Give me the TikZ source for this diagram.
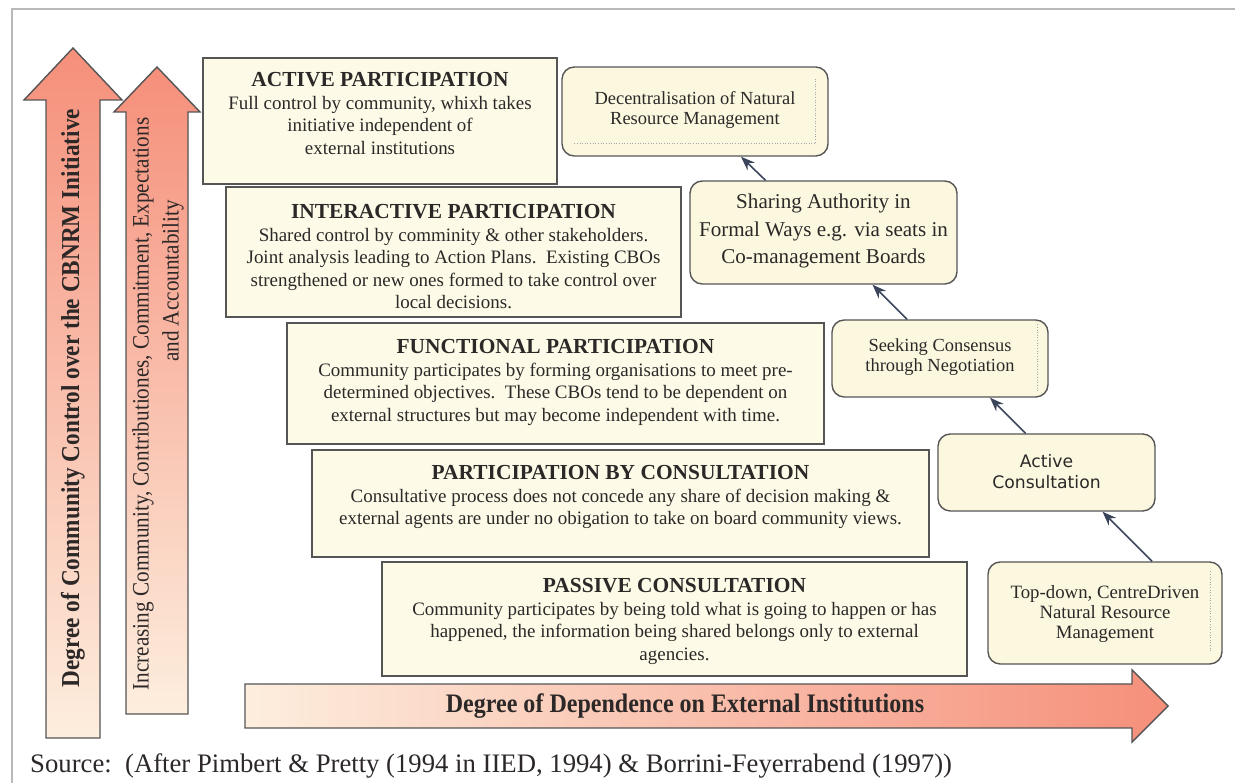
\documentclass[tikz,border=0pt]{standalone}
\definecolor{boxcream}{RGB}{253,251,232}
\definecolor{roundcream}{RGB}{252,248,224}
\definecolor{salmon}{RGB}{245,143,122}
\definecolor{lightpeach}{RGB}{253,238,222}
\definecolor{edgegray}{RGB}{85,85,85}
\definecolor{slatearrow}{RGB}{58,68,90}
\definecolor{inkgray}{RGB}{45,40,40}
\usepackage{fontspec}
\setmainfont{Liberation Serif}
\newfontfamily\narrowserif[FakeStretch=0.9]{Liberation Serif}
\newfontfamily\stagesans{DejaVu Sans}
\usepackage{tikz}
\usetikzlibrary{arrows.meta,positioning,calc,fit}

\begin{document}
\begin{tikzpicture}[x=0.02cm,y=-0.02cm,
    partbox/.style={draw=edgegray, line width=1pt, fill=boxcream, inner sep=0pt},
    parttext/.style={anchor=north, inner sep=0pt, align=center, text=inkgray,
        font=\fontsize{10.8}{12.8}\selectfont},
    stagebox/.style={draw=edgegray, line width=0.8pt, fill=roundcream, rounded corners=7pt, inner sep=0pt},
    stagetext/.style={anchor=north, inner sep=0pt, align=center, text=inkgray},
    bigarrow/.style={draw=edgegray, line width=0.8pt},
    stagelink/.style={draw=slatearrow, line width=0.9pt, -{Stealth[length=8pt,width=6pt]}},
    innerdots/.style={draw=gray!70, densely dotted, line width=0.5pt}]
    \useasboundingbox (0,0) rectangle (1235,783);
    \draw[gray!55, line width=0.6pt] (12,783) -- (12,9) -- (1235,9);

    % vertical arrows
    \draw[bigarrow, top color=salmon, bottom color=lightpeach]
        (46,738) -- (46,100) -- (24,100) -- (73,48) -- (122,100) -- (100,100) -- (100,738) -- cycle;
    \draw[bigarrow, top color=salmon, bottom color=lightpeach]
        (126,714) -- (126,112) -- (114,112) -- (157,67) -- (200,112) -- (188,112) -- (188,714) -- cycle;
    \node (control) [rotate=90, text=inkgray, font=\narrowserif\bfseries\fontsize{14.7}{18}\selectfont]
        at (73,398) {Degree of Community Control over the CBNRM Initiative};
    \node (increase) [rotate=90, align=center, text=inkgray, font=\narrowserif\fontsize{13.4}{17}\selectfont]
        at (158,404) {Increasing Community, Contributiones, Commitment, Expectations\\
        \hspace*{140pt}and Accountability};

    % horizontal arrow
    \draw[bigarrow, left color=lightpeach, right color=salmon]
        (245,684) -- (1132,684) -- (1132,670) -- (1168,706) -- (1132,742) -- (1132,728) -- (245,728) -- cycle;
    \node (depend) [text=inkgray, font=\narrowserif\bfseries\fontsize{15.2}{17}\selectfont]
        at (685,706) {Degree of Dependence on External Institutions};

    % participation levels
    \node (active) [partbox, fit={(203,58) (557,184)}] {};
    \node (interactive) [partbox, fit={(226,187) (681,317)}] {};
    \node (functional) [partbox, fit={(287,323) (824,444)}] {};
    \node (consult) [partbox, fit={(312,450) (929,557)}] {};
    \node (passive) [partbox, fit={(382,562) (967,676)}] {};

    \node (activetext) [parttext] at ($(active.north)+(0,15)$) {%
        \textbf{\fontsize{12.2}{12.8}\selectfont ACTIVE PARTICIPATION}\\
        Full control by community, whixh takes\\ initiative independent of\\ external institutions};
    \node (interactivetext) [parttext] at ($(interactive.north)+(0,18)$) {%
        \textbf{\fontsize{12.2}{12.8}\selectfont INTERACTIVE PARTICIPATION}\\
        Shared control by comminity \& other stakeholders.\\
        Joint analysis leading to Action Plans.\ \ Existing CBOs\\
        strengthened or new ones formed to take control over\\ local decisions.};
    \node (functionaltext) [parttext] at ($(functional.north)+(0,17)$) {%
        \textbf{\fontsize{12.2}{12.8}\selectfont FUNCTIONAL PARTICIPATION}\\
        Community participates by forming organisations to meet pre-\\
        determined objectives.\ \ These CBOs tend to be dependent on\\
        external structures but may become independent with time.};
    \node (consulttext) [parttext] at ($(consult.north)+(0,16)$) {%
        \textbf{\fontsize{12.2}{12.8}\selectfont PARTICIPATION BY CONSULTATION}\\
        Consultative process does not concede any share of decision making \&\\
        external agents are under no obigation to take on board community views.};
    \node (passivetext) [parttext] at ($(passive.north)+(0,17)$) {%
        \textbf{\fontsize{12.2}{12.8}\selectfont PASSIVE CONSULTATION}\\
        Community participates by being told what is going to happen or has\\
        happened, the information being shared belongs only to external\\ agencies.};

    % stages of devolution
    \node (decentral) [stagebox, fit={(562,67) (828,156)}] {};
    \node (sharing) [stagebox, fit={(690,181) (957,284)}] {};
    \node (consensus) [stagebox, fit={(832,320) (1048,397)}] {};
    \node (activecons) [stagebox, fit={(938,434) (1155,511)}] {};
    \node (topdown) [stagebox, fit={(988,562) (1222,664)}] {};

    \node (decentraltext) [stagetext, font=\fontsize{10.5}{11.4}\selectfont]
        at ($(decentral.north)+(0,25)$) {Decentralisation of Natural\\ Resource Management};
    \node (sharingtext) [stagetext, font=\fontsize{12}{15.8}\selectfont]
        at ($(sharing.north)+(0,13)$) {Sharing Authority in\\ Formal Ways e.g. via seats in\\ Co-management Boards};
    \node (consensustext) [stagetext, font=\fontsize{10.5}{11.4}\selectfont]
        at ($(consensus.north)+(0,19)$) {Seeking Consensus\\ through Negotiation};
    \node (activeconstext) [stagetext, font=\stagesans\fontsize{9.8}{12}\selectfont]
        at ($(activecons.north)+(0,21)$) {Active\\ Consultation};
    \node (topdowntext) [stagetext, font=\fontsize{10.7}{11.4}\selectfont]
        at ($(topdown.north)+(0,24)$) {Top-down, CentreDriven\\ Natural Resource\\ Management};

    \draw[innerdots] ($(decentral.south west)+(13,-13)$) -- ($(decentral.south east)+(-13,-13)$)
        -- ($(decentral.north east)+(-13,11)$);
    \draw[innerdots] ($(consensus.north east)+(-11,5)$) -- ($(consensus.south east)+(-11,-7)$);
    \draw[innerdots] ($(topdown.north east)+(-12,10)$) -- ($(topdown.south east)+(-12,-14)$);

    \draw[stagelink] ($(topdown.north)+(47,0)$) -- ($(activecons.south)+(56,0)$);
    \draw[stagelink] ($(activecons.north)+(-21,0)$) -- ($(consensus.south)+(50,0)$);
    \draw[stagelink] ($(consensus.north)+(-33,0)$) -- ($(sharing.south)+(49,0)$);
    \draw[stagelink] ($(sharing.north)+(-58,0)$) -- ($(decentral.south)+(46,0)$);

    \node (source) [anchor=west, text=inkgray, font=\fontsize{15.2}{18}\selectfont]
        at (24,766) {Source:\ \ (After Pimbert \& Pretty (1994 in IIED, 1994) \& Borrini-Feyerrabend (1997))};
\end{tikzpicture}
\end{document}
